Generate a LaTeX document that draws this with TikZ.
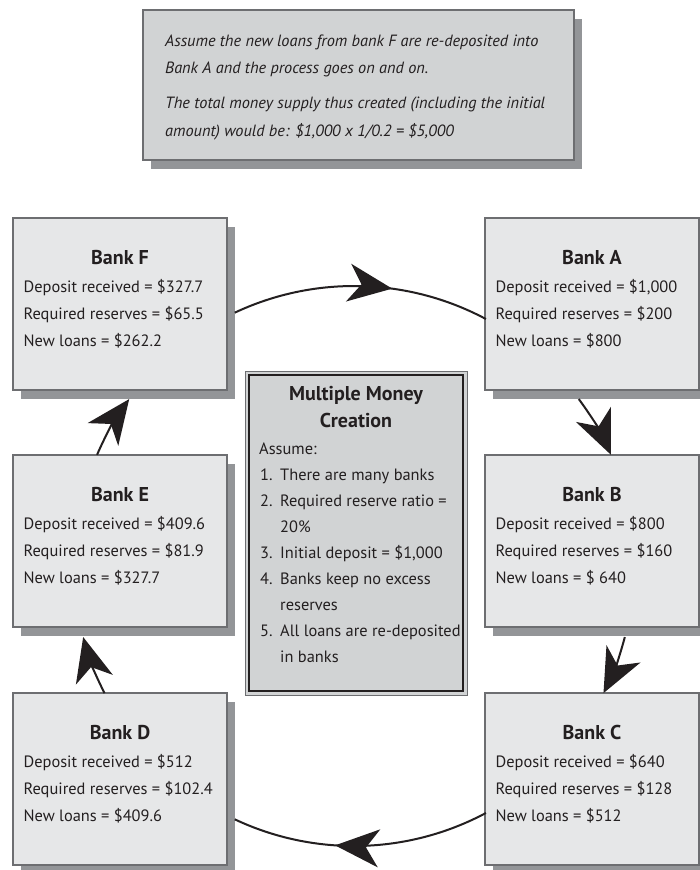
\documentclass[tikz,border=0pt]{standalone}
\usepackage{fontspec}
\setmainfont{PT Sans}
\usetikzlibrary{arrows.meta,decorations.markings,shadows,calc}
\definecolor{bankfill}{HTML}{E6E7E8}
\definecolor{notefill}{HTML}{D1D3D4}
\definecolor{shadowgray}{HTML}{939598}
\definecolor{edgegray}{HTML}{6D6E71}
\definecolor{ink}{HTML}{231F20}
\tikzset{
  box/.style={rectangle, draw=edgegray, line width=1.2pt, inner sep=0pt,
    general shadow={fill=shadowgray, shadow xshift=8pt, shadow yshift=-9pt}},
  bankbox/.style={box, fill=bankfill, minimum width=214pt, minimum height=172pt},
  banktitle/.style={anchor=base, font=\fontsize{20}{24}\selectfont\bfseries, text=ink, inner sep=0pt},
  bankline/.style={anchor=base west, font=\fontsize{16.4}{20}\selectfont, text=ink, inner sep=0pt},
  noteline/.style={anchor=base west, font=\fontsize{16.3}{20}\selectfont\itshape, text=ink, inner sep=0pt},
  flow/.style={line width=2pt, ink},
  bigtip/.style={-{Stealth[length=44pt,width=38pt,inset=13pt]}},
  midtip/.style={postaction=decorate, decoration={markings,
     mark=at position #1 with {\arrow{Stealth[length=44pt,width=38pt,inset=13pt]}}}},
}
\newcommand\bankunit[7]{%
  \node[bankbox] (#1) at (#2,#3) {};
  \node[banktitle] (#1t) at ($(#1.north)+(0,-47)$) {#4};
  \node[bankline] (#1a) at ($(#1.north west)+(11,-75)$) {#5};
  \node[bankline] (#1b) at ($(#1.north west)+(11,-102)$) {#6};
  \node[bankline] (#1c) at ($(#1.north west)+(11,-129)$) {#7};
}
\begin{document}
\begin{tikzpicture}[x=1pt,y=1pt]
\useasboundingbox[fill=white] (0,0) rectangle (700,-870);

% top note
\node[box, fill=notefill, minimum width=431pt, minimum height=150pt] (T) at (358.5,-85) {};
\node[noteline] (T1) at (165,-46) {Assume the new loans from bank F are re-deposited into};
\node[noteline] (T2) at (165,-73) {Bank A and the process goes on and on.};
\node[noteline] (T3) at (165,-108) {The total money supply thus created (including the initial};
\node[noteline] (T4) at (165,-136) {amount) would be: \$1,000 x 1/0.2 = \$5,000};

% banks
\bankunit{F}{120}{-304}{Bank F}{Deposit received = \$327.7}{Required reserves = \$65.5}{New loans = \$262.2}
\bankunit{A}{592}{-304}{Bank A}{Deposit received = \$1,000}{Required reserves = \$200}{New loans = \$800}
\bankunit{E}{120}{-541}{Bank E}{Deposit received = \$409.6}{Required reserves = \$81.9}{New loans = \$327.7}
\bankunit{B}{592}{-541}{Bank B}{Deposit received = \$800}{Required reserves = \$160}{New loans = \$ 640}
\bankunit{D}{120}{-779}{Bank D}{Deposit received = \$512}{Required reserves = \$102.4}{New loans = \$409.6}
\bankunit{C}{592}{-779}{Bank C}{Deposit received = \$640}{Required reserves = \$128}{New loans = \$512}

% centre box
\node[rectangle, fill=notefill, draw=edgegray, line width=0.8pt, minimum width=222pt, minimum height=324pt, inner sep=0pt] (Mo) at (356,-533) {};
\node[rectangle, draw=ink, line width=2.4pt, minimum width=214pt, minimum height=316pt, inner sep=0pt] (M) at (356,-533) {};
\node[banktitle] (M1) at (356,-400) {Multiple Money};
\node[banktitle] (M2) at (356,-427) {Creation};
\node[bankline] (M3) at (259,-454) {Assume:};
\foreach \n/\y/\t in {1./480/{There are many banks}, 2./506/{Required reserve ratio =}, /532/{20\%},
   3./558/{Initial deposit = \$1,000}, 4./584/{Banks keep no excess}, /610/{reserves},
   5./636/{All loans are re-deposited}, /662/{in banks}}{
  \node[bankline] at (260,-\y) {\n};
  \node[bankline] at (280,-\y) {\t};
}

% circular flow
\coordinate (O) at (354,-566);
\coordinate (fa) at ($(O)+(115.2:280)$);
\coordinate (ab) at ($(O)+(36.6:280)$);
\coordinate (bc) at ($(O)+(-14.7:280)$);
\coordinate (cd) at ($(O)+(-61.9:280)$);
\coordinate (de) at ($(O)+(207:280)$);
\coordinate (ef) at ($(O)+(156.6:280)$);
\draw[flow, midtip=0.62] (fa) arc[start angle=115.2, end angle=61.9, radius=280];
\draw[flow, bigtip] (ab) arc[start angle=36.6, end angle=23.4, radius=280];
\draw[flow, bigtip] (bc) arc[start angle=-14.7, end angle=-27, radius=280];
\draw[flow, midtip=0.6] (cd) arc[start angle=-61.9, end angle=-115.2, radius=280];
\draw[flow, bigtip] (de) arc[start angle=207, end angle=194.7, radius=280];
\draw[flow, bigtip] (ef) arc[start angle=156.6, end angle=143.4, radius=280];
\end{tikzpicture}
\end{document}
